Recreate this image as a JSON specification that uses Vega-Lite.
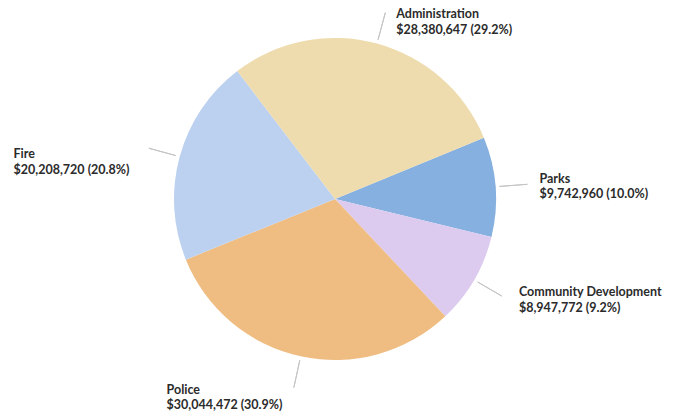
{
  "$schema": "https://vega.github.io/schema/vega-lite/v6.json",
  "width": 670,
  "height": 398,
  "autosize": {"type": "none"},
  "padding": {"left": 0, "top": 0, "right": 8, "bottom": 17},
  "background": "white",
  "config": {"view": {"stroke": null}},
  "data": {
    "values": [
      {"dept": "Parks", "amount": 9742960, "order": 1},
      {"dept": "Community Development", "amount": 8947772, "order": 2},
      {"dept": "Police", "amount": 30044472, "order": 3},
      {"dept": "Fire", "amount": 20208720, "order": 4},
      {"dept": "Administration", "amount": 28380647, "order": 5}
    ]
  },
  "transform": [
    {"joinaggregate": [{"op": "sum", "field": "amount", "as": "total"}]},
    {"window": [{"op": "sum", "field": "amount", "as": "cum"}], "sort": [{"field": "order", "order": "ascending"}], "frame": [null, 0]},
    {"calculate": "datum.cum - datum.amount / 2", "as": "mid"},
    {"calculate": "[datum.dept, format(datum.amount, '$,') + ' (' + format(datum.amount / datum.total, '.1%') + ')']", "as": "label"}
  ],
  "layer": [
    {
      "mark": {"type": "arc", "outerRadius": 161},
      "encoding": {
        "theta": {"field": "amount", "type": "quantitative", "stack": true, "scale": {"range": [1.18, 7.4632]}},
        "order": {"field": "order", "type": "quantitative"},
        "color": {
          "field": "dept", "type": "nominal", "legend": null,
          "scale": {
            "domain": ["Parks", "Community Development", "Police", "Fire", "Administration"],
            "range": ["#86b0e0", "#dccbef", "#efbd82", "#bcd1f0", "#eedcae"]
          }
        }
      }
    },
    {
      "mark": {"type": "arc", "innerRadius": 165, "outerRadius": 193, "stroke": "#c4c4c4", "strokeWidth": 1, "fillOpacity": 0},
      "encoding": {
        "theta": {"field": "mid", "type": "quantitative", "stack": null},
        "theta2": {"field": "mid"}
      }
    },
    {
      "transform": [{"filter": "datum.dept === 'Administration'"}],
      "mark": {"type": "text", "radius": 185, "align": "left", "baseline": "alphabetic", "dx": 13, "dy": -2, "font": "Lato", "fontWeight": "bold", "fontSize": 12.5, "lineHeight": 15.5, "color": "#2b2b2b"},
      "encoding": {"theta": {"field": "mid", "type": "quantitative", "stack": null}, "text": {"field": "label"}}
    },
    {
      "transform": [{"filter": "datum.dept === 'Fire'"}],
      "mark": {"type": "text", "radius": 185, "align": "left", "baseline": "alphabetic", "dx": -143, "dy": 8, "font": "Lato", "fontWeight": "bold", "fontSize": 12.5, "lineHeight": 15.5, "color": "#2b2b2b"},
      "encoding": {"theta": {"field": "mid", "type": "quantitative", "stack": null}, "text": {"field": "label"}}
    },
    {
      "transform": [{"filter": "datum.dept === 'Parks'"}],
      "mark": {"type": "text", "radius": 185, "align": "left", "baseline": "alphabetic", "dx": 20, "dy": -2, "font": "Lato", "fontWeight": "bold", "fontSize": 12.5, "lineHeight": 15.5, "color": "#2b2b2b"},
      "encoding": {"theta": {"field": "mid", "type": "quantitative", "stack": null}, "text": {"field": "label"}}
    },
    {
      "transform": [{"filter": "datum.dept === 'Community Development'"}],
      "mark": {"type": "text", "radius": 185, "align": "left", "baseline": "alphabetic", "dx": 24, "dy": 4, "font": "Lato", "fontWeight": "bold", "fontSize": 12.5, "lineHeight": 15.5, "color": "#2b2b2b"},
      "encoding": {"theta": {"field": "mid", "type": "quantitative", "stack": null}, "text": {"field": "label"}}
    },
    {
      "transform": [{"filter": "datum.dept === 'Police'"}],
      "mark": {"type": "text", "radius": 185, "align": "left", "baseline": "alphabetic", "dx": -129, "dy": 14, "font": "Lato", "fontWeight": "bold", "fontSize": 12.5, "lineHeight": 15.5, "color": "#2b2b2b"},
      "encoding": {"theta": {"field": "mid", "type": "quantitative", "stack": null}, "text": {"field": "label"}}
    }
  ]
}
